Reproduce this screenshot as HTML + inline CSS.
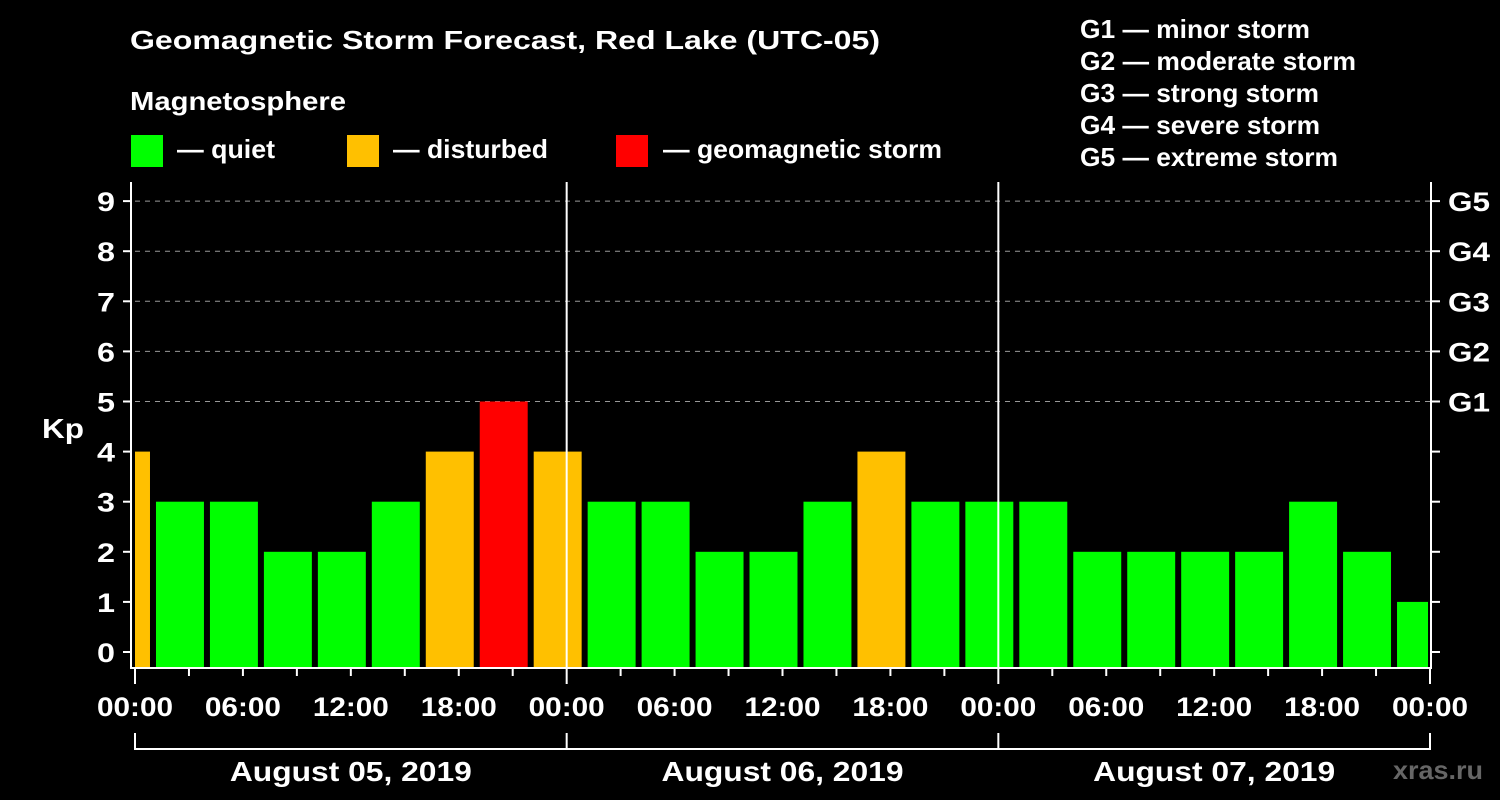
<!DOCTYPE html>
<html><head><meta charset="utf-8"><style>
body{margin:0;background:#000;width:1500px;height:800px;overflow:hidden}
svg{display:block;font-family:"Liberation Sans",Arial,sans-serif;font-weight:bold}
</style></head><body>
<svg id="c" width="1500" height="800">
<text x="130" y="49" fill="#fff" font-size="26" textLength="750" lengthAdjust="spacingAndGlyphs">Geomagnetic Storm Forecast, Red Lake (UTC-05)</text>
<text x="130" y="110" fill="#fff" font-size="26" textLength="216" lengthAdjust="spacingAndGlyphs">Magnetosphere</text>
<g><rect x="131" y="135" width="32" height="32" fill="#00ff00"/><text x="177" y="158" fill="#fff" font-size="26" textLength="98" lengthAdjust="spacingAndGlyphs">— quiet</text></g>
<g><rect x="347" y="135" width="32" height="32" fill="#ffc000"/><text x="393" y="158" fill="#fff" font-size="26" textLength="155" lengthAdjust="spacingAndGlyphs">— disturbed</text></g>
<g><rect x="616" y="135" width="32" height="32" fill="#ff0000"/><text x="663" y="158" fill="#fff" font-size="26" textLength="279" lengthAdjust="spacingAndGlyphs">— geomagnetic storm</text></g>
<g fill="#fff" font-size="26" lengthAdjust="spacingAndGlyphs">
<text x="1080" y="38" textLength="230" lengthAdjust="spacingAndGlyphs">G1 — minor storm</text><text x="1080" y="70" textLength="276" lengthAdjust="spacingAndGlyphs">G2 — moderate storm</text><text x="1080" y="102" textLength="239" lengthAdjust="spacingAndGlyphs">G3 — strong storm</text><text x="1080" y="134" textLength="240" lengthAdjust="spacingAndGlyphs">G4 — severe storm</text><text x="1080" y="166" textLength="258" lengthAdjust="spacingAndGlyphs">G5 — extreme storm</text></g>
<text x="42" y="438" fill="#fff" font-size="28" textLength="42" lengthAdjust="spacingAndGlyphs">Kp</text>
<text x="1393" y="779" fill="#666" font-size="26" textLength="90" lengthAdjust="spacingAndGlyphs">xras.ru</text>
<g id="plot"></g>
</svg>
<script>
const kpValues=[4,3,3,2,2,3,4,5,4,3,3,2,2,3,4,3,3,3,2,2,2,2,3,2,1];
const yTicks=[0,1,2,3,4,5,6,7,8,9];
const gLabels=["G1","G2","G3","G4","G5"];
const timeLabels=["00:00","06:00","12:00","18:00"];
const dateLabels=["August 05, 2019","August 06, 2019","August 07, 2019"];
const NS="http://www.w3.org/2000/svg";
const g=document.getElementById('plot');
const L=135,R=1430,T=182,B=668;
const x=h=>L+h*(R-L)/72;
const y=v=>652-v*50.1;
function el(t,a,p){const e=document.createElementNS(NS,t);for(const k in a)e.setAttribute(k,a[k]);(p||g).appendChild(e);return e;}
function col(v){return v>=5?"#ff0000":v>=4?"#ffc000":"#00ff00";}
yTicks.forEach(v=>{if(v>=5){const l=el('line',{x1:L,x2:R,y1:y(v),y2:y(v),stroke:'#999','stroke-dasharray':'5,5','stroke-width':1});

}});
kpValues.forEach((v,i)=>{const s=-2+3*i,e=s+3;let x0=Math.max(x(s)+3,L),x1=Math.min(x(e)-3,R-2);
const r=el('rect',{x:x0,y:y(v),width:x1-x0,height:B-y(v),fill:col(v)});

});
el('line',{x1:131,x2:131,y1:T,y2:B+1,stroke:'#fff','stroke-width':2});
el('line',{x1:R+1,x2:R+1,y1:T,y2:B+1,stroke:'#fff','stroke-width':2});
el('line',{x1:130,x2:R+2,y1:B,y2:B,stroke:'#fff','stroke-width':2});
[24,48].forEach(h=>el('line',{x1:x(h),x2:x(h),y1:T,y2:B,stroke:'#fff','stroke-width':2}));
yTicks.forEach(v=>{el('line',{x1:123,x2:131,y1:y(v),y2:y(v),stroke:'#fff','stroke-width':2});
el('line',{x1:R+1,x2:R+10,y1:y(v),y2:y(v),stroke:'#fff','stroke-width':2});
const t=el('text',{x:115,y:y(v)+10,fill:'#fff','font-size':27,'text-anchor':'end',textLength:18,lengthAdjust:'spacingAndGlyphs'});t.textContent=v;

});
gLabels.forEach((s,i)=>{const t=el('text',{x:1448,y:y(5+i)+10,fill:'#fff','font-size':27,textLength:42,lengthAdjust:'spacingAndGlyphs'});t.textContent=s;

});
for(let h=0;h<=72;h+=3){const big=h%24==0;el('line',{x1:x(h),x2:x(h),y1:B,y2:B+(big?16:8),stroke:'#fff','stroke-width':2});
if(h%6==0){const t=el('text',{x:x(h)-38,y:716,fill:'#fff','font-size':27,textLength:76,lengthAdjust:'spacingAndGlyphs'});t.textContent=timeLabels[(h%24)/6];

}}
el('line',{x1:L,x2:R,y1:749,y2:749,stroke:'#fff','stroke-width':2});
[0,24,48,72].forEach(h=>el('line',{x1:x(h),x2:x(h),y1:733,y2:750,stroke:'#fff','stroke-width':2}));
dateLabels.forEach((d,i)=>{const t=el('text',{x:x(12+24*i)-121,y:781,fill:'#fff','font-size':28,textLength:242,lengthAdjust:'spacingAndGlyphs'});t.textContent=d;

});
</script>
</body></html>
